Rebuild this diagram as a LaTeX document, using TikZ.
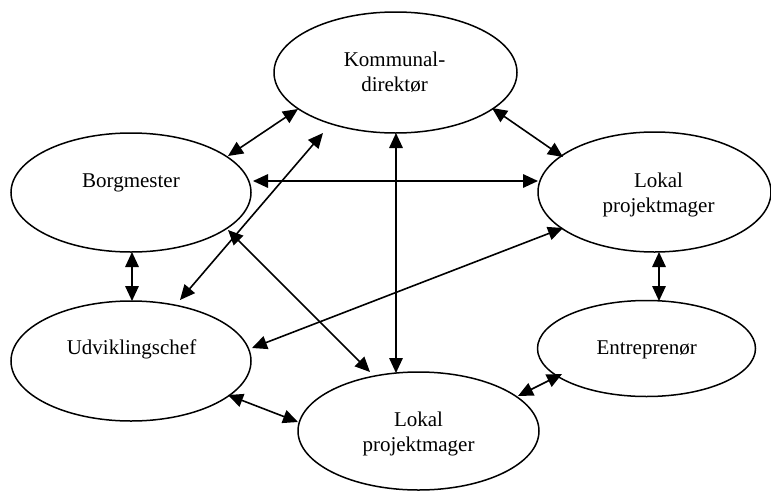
\documentclass[tikz,border=0pt]{standalone}
\usepackage{fontspec}
\setmainfont{Liberation Serif}
\usetikzlibrary{arrows.meta,shapes.geometric}
\begin{document}
\begin{tikzpicture}[x=1pt,y=-1pt,
  oval/.style={draw,ellipse,line width=1.5pt,inner sep=0pt,outer sep=0pt},
  lbl/.style={font=\fontsize{21}{25}\selectfont,inner sep=0pt,align=center},
  link/.style={line width=1.6pt,{Triangle[length=15pt,width=13.5pt]}-{Triangle[length=15pt,width=13.5pt]}}]
\useasboundingbox (0,0) rectangle (771,490);
% ellipses
\node[oval,minimum width=243pt,minimum height=121pt] (K) at (395.5,72.5) {};
\node[oval,minimum width=240pt,minimum height=119pt] (B) at (131,192.5) {};
\node[oval,minimum width=233pt,minimum height=120pt] (R) at (654.5,192) {};
\node[oval,minimum width=240pt,minimum height=120pt] (U) at (131,361) {};
\node[oval,minimum width=218pt,minimum height=96pt] (E) at (646.5,348.5) {};
\node[oval,minimum width=241pt,minimum height=118pt] (L) at (418.5,431) {};
% labels
\node[lbl] (Kt) at (394.5,72.6) {Kommunal-\\direktør};
\node[lbl,anchor=base] (Bt) at (131,187) {Borgmester};
\node[lbl] (Rt) at (658.5,194.6) {Lokal\\projektmager};
\node[lbl,anchor=base] (Ut) at (131.5,354) {Udviklingschef};
\node[lbl,anchor=base] (Et) at (646.7,354) {Entreprenør};
\node[lbl] (Lt) at (418.5,433.6) {Lokal\\projektmager};
% connectors
\draw[link] ([shift={(-97.5,36.5)}]K.center) -- ([shift={(97,-36.5)}]B.center);
\draw[link] ([shift={(-72.5,60.5)}]K.center) -- ([shift={(49,-61)}]U.center);
\draw[link] ([shift={(122,-11.5)}]B.center) -- ([shift={(-116.5,-11)}]R.center);
\draw[link] ([shift={(0.5,60.5)}]K.center) -- ([shift={(-22.5,-58)}]L.center);
\draw[link] ([shift={(96.5,35.5)}]K.center) -- ([shift={(-91.5,-35)}]R.center);
\draw[link] ([shift={(97,37.5)}]B.center) -- ([shift={(-48.5,-59)}]L.center);
\draw[link] ([shift={(121,-13)}]U.center) -- ([shift={(-91.5,36)}]R.center);
\draw[link] ([shift={(1,59.5)}]B.center) -- ([shift={(1,-60)}]U.center);
\draw[link] ([shift={(4.5,60)}]R.center) -- ([shift={(12.5,-47.5)}]E.center);
\draw[link] ([shift={(-84.5,25.5)}]E.center) -- ([shift={(99.5,-35)}]L.center);
\draw[link] ([shift={(97,34)}]U.center) -- ([shift={(-120.5,-9)}]L.center);
\end{tikzpicture}
\end{document}
